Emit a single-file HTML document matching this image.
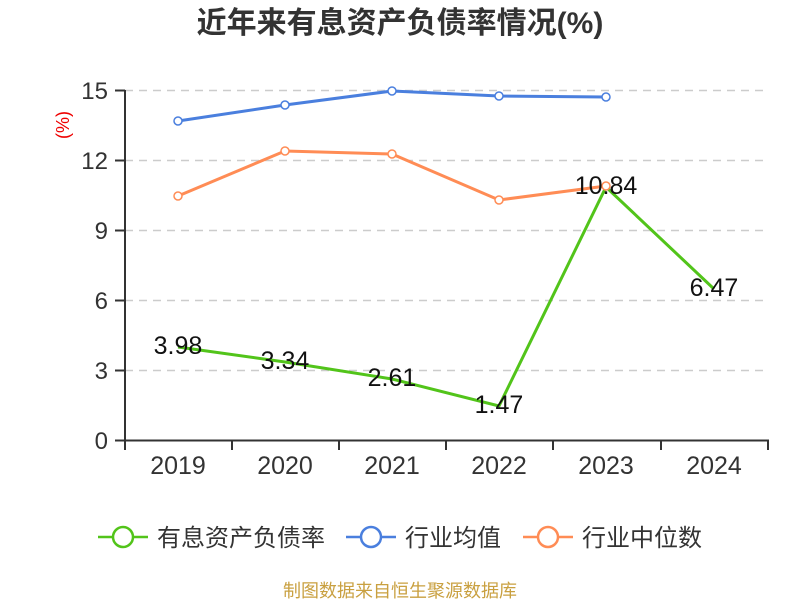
<!DOCTYPE html>
<html><head><meta charset="utf-8"><style>
body{margin:0;background:#fff;width:800px;height:600px;overflow:hidden}
text{font-family:"Liberation Sans","Noto Sans CJK SC",sans-serif}
</style></head><body>
<svg width="800" height="600" xmlns="http://www.w3.org/2000/svg">
<text x="400" y="33" text-anchor="middle" font-size="30" font-weight="bold" fill="#333">近年来有息资产负债率情况(%)</text>
<g stroke="#ccc" stroke-dasharray="8,6" stroke-width="1.5">
<line x1="125" x2="768" y1="90.5" y2="90.5"/><line x1="125" x2="768" y1="160.5" y2="160.5"/>
<line x1="125" x2="768" y1="230.5" y2="230.5"/><line x1="125" x2="768" y1="300.5" y2="300.5"/>
<line x1="125" x2="768" y1="370.5" y2="370.5"/></g>
<g stroke="#333" stroke-width="2">
<line x1="125" x2="125" y1="90" y2="441"/><line x1="124" x2="769" y1="440.5" y2="440.5"/>
<line x1="115" x2="125" y1="90.5" y2="90.5"/><line x1="115" x2="125" y1="160.5" y2="160.5"/>
<line x1="115" x2="125" y1="230.5" y2="230.5"/><line x1="115" x2="125" y1="300.5" y2="300.5"/>
<line x1="115" x2="125" y1="370.5" y2="370.5"/><line x1="115" x2="125" y1="440.5" y2="440.5"/>
<line x1="125" x2="125" y1="440" y2="450"/><line x1="232" x2="232" y1="440" y2="450"/>
<line x1="339" x2="339" y1="440" y2="450"/><line x1="446" x2="446" y1="440" y2="450"/>
<line x1="553" x2="553" y1="440" y2="450"/><line x1="661" x2="661" y1="440" y2="450"/>
<line x1="768" x2="768" y1="440" y2="450"/></g>
<g font-size="24" fill="#333" text-anchor="end">
<text x="108" y="99">15</text><text x="108" y="169">12</text><text x="108" y="239">9</text>
<text x="108" y="309">6</text><text x="108" y="379">3</text><text x="108" y="449">0</text></g>
<g font-size="25" fill="#333" text-anchor="middle">
<text x="178" y="474">2019</text><text x="285" y="474">2020</text><text x="392" y="474">2021</text>
<text x="499" y="474">2022</text><text x="606" y="474">2023</text><text x="714" y="474">2024</text></g>
<text transform="translate(69,125) rotate(-90)" font-size="18" fill="#e00" text-anchor="middle">(%)</text>
<polyline fill="none" stroke="#4a7fde" stroke-width="3" points="178,121 285,105 392,91 499,96 606,97"/>
<polyline fill="none" stroke="#ff8c55" stroke-width="3" points="178,196 285,151 392,154 499,200 606,186"/>
<polyline fill="none" stroke="#52c41a" stroke-width="3" points="178,347 285,362 392,379 499,406 606,187 714,289"/>
<g fill="#fff" stroke="#4a7fde" stroke-width="1.5"><circle cx="178" cy="121" r="4"/><circle cx="285" cy="105" r="4"/><circle cx="392" cy="91" r="4"/><circle cx="499" cy="96" r="4"/><circle cx="606" cy="97" r="4"/></g>
<g fill="#fff" stroke="#ff8c55" stroke-width="1.5"><circle cx="178" cy="196" r="4"/><circle cx="285" cy="151" r="4"/><circle cx="392" cy="154" r="4"/><circle cx="499" cy="200" r="4"/><circle cx="606" cy="186" r="4"/></g>
<g font-size="25" fill="#111" text-anchor="middle">
<text x="178" y="354">3.98</text><text x="285" y="369">3.34</text><text x="392" y="386">2.61</text>
<text x="499" y="413">1.47</text><text x="606" y="194">10.84</text><text x="714" y="296">6.47</text></g>
<g stroke-width="2.5" fill="#fff">
<line x1="98" x2="148" y1="537" y2="537" stroke="#52c41a"/><circle cx="123" cy="537" r="10" stroke="#52c41a"/>
<line x1="346" x2="396" y1="537" y2="537" stroke="#4a7fde"/><circle cx="371" cy="537" r="10" stroke="#4a7fde"/>
<line x1="523" x2="573" y1="537" y2="537" stroke="#ff8c55"/><circle cx="548" cy="537" r="10" stroke="#ff8c55"/></g>
<g font-size="24" fill="#333">
<text x="157" y="546">有息资产负债率</text><text x="405" y="546">行业均值</text><text x="582" y="546">行业中位数</text></g>
<text x="400" y="597" font-size="18" fill="#c9a040" text-anchor="middle">制图数据来自恒生聚源数据库</text>
</svg>
</body></html>
